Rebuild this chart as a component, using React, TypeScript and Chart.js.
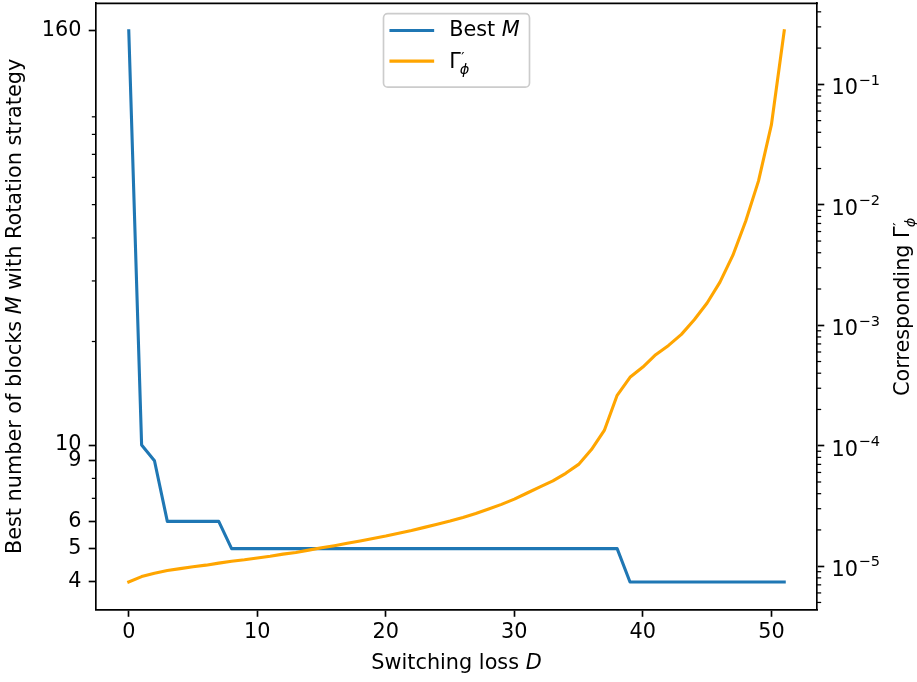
import React, { useEffect, useRef } from 'react';
import { Chart, registerables } from 'chart.js';

Chart.register(...registerables);

// ---------- data ----------
const switchingLoss = [
  0, 1, 2, 3, 4, 5, 6, 7, 8, 9, 10, 11, 12, 13, 14, 15, 16, 17, 18, 19, 20, 21, 22, 23, 24, 25,
  26, 27, 28, 29, 30, 31, 32, 33, 34, 35, 36, 37, 38, 39, 40, 41, 42, 43, 44, 45, 46, 47, 48, 49, 50, 51,
];
const bestM = [
  160, 10, 9, 6, 6, 6, 6, 6, 5, 5, 5, 5, 5, 5, 5, 5, 5, 5, 5, 5, 5, 5, 5, 5, 5, 5,
  5, 5, 5, 5, 5, 5, 5, 5, 5, 5, 5, 5, 5, 4, 4, 4, 4, 4, 4, 4, 4, 4, 4, 4, 4, 4,
];
const gammaPhi = [
  7.4e-6, 8.2e-6, 8.75e-6, 9.2e-6, 9.55e-6, 9.9e-6, 1.02e-5, 1.06e-5, 1.1e-5, 1.13e-5,
  1.17e-5, 1.21e-5, 1.26e-5, 1.3e-5, 1.36e-5, 1.42e-5, 1.48e-5, 1.55e-5, 1.62e-5, 1.7e-5,
  1.78e-5, 1.88e-5, 1.98e-5, 2.1e-5, 2.23e-5, 2.37e-5, 2.54e-5, 2.74e-5, 2.98e-5, 3.26e-5,
  3.6e-5, 4.05e-5, 4.55e-5, 5.1e-5, 5.9e-5, 7.0e-5, 9.3e-5, 1.34e-4, 2.62e-4, 3.7e-4,
  4.5e-4, 5.7e-4, 6.8e-4, 8.4e-4, 1.11e-3, 1.53e-3, 2.28e-3, 3.8e-3, 7.3e-3, 1.58e-2,
  4.6e-2, 0.278,
];

const xTicks = [0, 10, 20, 30, 40, 50];
const leftTicks = [4, 5, 6, 9, 10, 160];
const leftMinorTicks = [7, 8, 20, 30, 40, 50, 60, 70, 80, 90];
const rightTicks = [1e-5, 1e-4, 1e-3, 1e-2, 1e-1];
const rightTickExponents = [-5, -4, -3, -2, -1];
const rightMinorTicks = [
  5e-6, 6e-6, 7e-6, 8e-6, 9e-6,
  2e-5, 3e-5, 4e-5, 5e-5, 6e-5, 7e-5, 8e-5, 9e-5,
  2e-4, 3e-4, 4e-4, 5e-4, 6e-4, 7e-4, 8e-4, 9e-4,
  2e-3, 3e-3, 4e-3, 5e-3, 6e-3, 7e-3, 8e-3, 9e-3,
  2e-2, 3e-2, 4e-2, 5e-2, 6e-2, 7e-2, 8e-2, 9e-2,
  2e-1, 3e-1, 4e-1,
];

// ---------- style ----------
const FONT = 'DejaVu Sans';
const FS = 20.8;
const BLUE = '#1f77b4';
const ORANGE = '#ffa500';
const MAJOR_LEN = 7.29;
const MINOR_LEN = 4.17;
const PAD = 7.29;

// axis limits with matplotlib-like 5% margins
const xMinData = Math.min(...switchingLoss);
const xMaxData = Math.max(...switchingLoss);
const xMargin = (xMaxData - xMinData) * 0.05;
function logLimits(arr: number[]) {
  const lo = Math.log10(Math.min(...arr));
  const hi = Math.log10(Math.max(...arr));
  const m = (hi - lo) * 0.05;
  return [Math.pow(10, lo - m), Math.pow(10, hi + m)];
}
const [yLMin, yLMax] = logLimits(bestM);
const [yRMin, yRMax] = logLimits(gammaPhi);

const fontN = (s: number) => `${s}px "${FONT}"`;
const fontI = (s: number) => `italic ${s}px "${FONT}"`;

// Gamma'_phi math label
function gammaWidth(ctx: CanvasRenderingContext2D, s: number) {
  ctx.font = fontN(s);
  const g = ctx.measureText('\u0393').width;
  ctx.font = fontI(s * 0.7);
  const p = ctx.measureText('\u03D5').width;
  return g + p;
}
function drawGamma(ctx: CanvasRenderingContext2D, x: number, base: number, s: number) {
  ctx.font = fontN(s);
  ctx.fillText('\u0393', x, base);
  const g = ctx.measureText('\u0393').width;
  ctx.font = fontN(s * 0.7);
  ctx.fillText('\u2032', x + g + 0.5, base - s * 0.27);
  ctx.font = fontI(s * 0.7);
  ctx.fillText('\u03D5', x + g - 1, base + s * 0.3);
}

type Part = { t: string; it: boolean };
function partsWidth(ctx: CanvasRenderingContext2D, parts: Part[], s: number) {
  let w = 0;
  for (const p of parts) {
    ctx.font = p.it ? fontI(s) : fontN(s);
    w += ctx.measureText(p.t).width;
  }
  return w;
}
function drawParts(ctx: CanvasRenderingContext2D, parts: Part[], x: number, base: number, s: number) {
  let cx = x;
  for (const p of parts) {
    ctx.font = p.it ? fontI(s) : fontN(s);
    ctx.fillText(p.t, cx, base);
    cx += ctx.measureText(p.t).width;
  }
  return cx;
}

const decorPlugin = {
  id: 'decor',
  afterDraw(chart: any) {
    const ctx: CanvasRenderingContext2D = chart.ctx;
    const { left, right, top, bottom } = chart.chartArea;
    const yL = chart.scales.yL;
    const yR = chart.scales.yR;
    ctx.save();
    // top spine
    ctx.strokeStyle = '#000';
    ctx.lineWidth = 1.67;
    ctx.lineCap = 'square';
    ctx.beginPath();
    ctx.moveTo(left, top);
    ctx.lineTo(right, top);
    ctx.stroke();

    // minor ticks
    ctx.lineCap = 'butt';
    ctx.lineWidth = 1.25;
    for (const v of leftMinorTicks) {
      const y = yL.getPixelForValue(v);
      ctx.beginPath();
      ctx.moveTo(left - MINOR_LEN, y);
      ctx.lineTo(left, y);
      ctx.stroke();
    }
    for (const v of rightMinorTicks) {
      const y = yR.getPixelForValue(v);
      ctx.beginPath();
      ctx.moveTo(right, y);
      ctx.lineTo(right + MINOR_LEN, y);
      ctx.stroke();
    }

    // right tick labels 10^n
    ctx.fillStyle = '#000';
    ctx.textAlign = 'left';
    ctx.textBaseline = 'alphabetic';
    rightTicks.forEach((v, i) => {
      const y = yR.getPixelForValue(v);
      const x0 = right + MAJOR_LEN + PAD;
      const base = y + 9.8;
      ctx.font = fontN(FS);
      ctx.fillText('10', x0, base);
      const w = ctx.measureText('10').width;
      ctx.font = fontN(FS * 0.7);
      ctx.fillText('\u2212' + Math.abs(rightTickExponents[i]), x0 + w + 0.5, base - 9.5);
    });

    // x title
    const xParts: Part[] = [{ t: 'Switching loss ', it: false }, { t: 'D', it: true }];
    const xw = partsWidth(ctx, xParts, FS);
    drawParts(ctx, xParts, (left + right) / 2 - xw / 2, 669, FS);

    // left title
    const cy = (top + bottom) / 2;
    const lParts: Part[] = [
      { t: 'Best number of blocks ', it: false },
      { t: 'M', it: true },
      { t: ' with Rotation strategy', it: false },
    ];
    ctx.save();
    ctx.translate(20.7, cy);
    ctx.rotate(-Math.PI / 2);
    const lw = partsWidth(ctx, lParts, FS);
    drawParts(ctx, lParts, -lw / 2, 0, FS);
    ctx.restore();

    // right title
    const rParts: Part[] = [{ t: 'Corresponding ', it: false }];
    ctx.save();
    ctx.translate(908.5, cy);
    ctx.rotate(-Math.PI / 2);
    const rw = partsWidth(ctx, rParts, FS) + gammaWidth(ctx, FS);
    const ex = drawParts(ctx, rParts, -rw / 2, 0, FS);
    drawGamma(ctx, ex, 0, FS);
    ctx.restore();

    // legend
    const lgW = 146;
    const lgH = 73.5;
    const lgX = (left + right) / 2 - lgW / 2;
    const lgY = top + 10.4;
    ctx.beginPath();
    (ctx as any).roundRect(lgX, lgY, lgW, lgH, 4.2);
    ctx.fillStyle = 'rgba(255,255,255,0.8)';
    ctx.fill();
    ctx.strokeStyle = '#cccccc';
    ctx.lineWidth = 1.67;
    ctx.stroke();

    const hx0 = lgX + 7.5;
    const hx1 = hx0 + 41.6;
    const tx = hx1 + 16.6;
    ctx.lineWidth = 3.1;
    ctx.lineCap = 'square';
    ctx.strokeStyle = BLUE;
    ctx.beginPath();
    ctx.moveTo(hx0, lgY + 16.8);
    ctx.lineTo(hx1, lgY + 16.8);
    ctx.stroke();
    ctx.strokeStyle = ORANGE;
    ctx.beginPath();
    ctx.moveTo(hx0, lgY + 47.4);
    ctx.lineTo(hx1, lgY + 47.4);
    ctx.stroke();
    ctx.fillStyle = '#000';
    drawParts(ctx, [{ t: 'Best ', it: false }, { t: 'M', it: true }], tx, lgY + 22.6, FS);
    drawGamma(ctx, tx, lgY + 54, FS);

    ctx.restore();
  },
};

export default function App() {
  const ref = useRef<HTMLCanvasElement | null>(null);
  useEffect(() => {
    document.body.style.margin = '0';
    const canvas = ref.current;
    if (!canvas) return;
    const tickFont = { family: FONT, size: FS };
    const gridOpts = {
      display: true,
      drawOnChartArea: false,
      drawTicks: true,
      tickLength: MAJOR_LEN,
      tickWidth: 1.67,
      tickColor: '#000',
    };
    const borderOpts = { display: true, color: '#000', width: 1.67 };
    const chart = new Chart(canvas, {
      type: 'line',
      data: {
        datasets: [
          {
            label: "Γ′ϕ",
            data: switchingLoss.map((x, i) => ({ x, y: gammaPhi[i] })),
            xAxisID: 'x',
            yAxisID: 'yR',
            borderColor: ORANGE,
            backgroundColor: ORANGE,
            borderWidth: 3.1,
            pointRadius: 0,
            pointHoverRadius: 0,
            tension: 0,
            fill: false,
            borderJoinStyle: 'round',
            borderCapStyle: 'square',
            order: 0,
          },
          {
            label: 'Best M',
            data: switchingLoss.map((x, i) => ({ x, y: bestM[i] })),
            xAxisID: 'x',
            yAxisID: 'yL',
            borderColor: BLUE,
            backgroundColor: BLUE,
            borderWidth: 3.1,
            pointRadius: 0,
            pointHoverRadius: 0,
            tension: 0,
            fill: false,
            borderJoinStyle: 'round',
            borderCapStyle: 'square',
            order: 1,
          },
        ],
      },
      options: {
        responsive: false,
        animation: false,
        devicePixelRatio: 1,
        events: [],
        layout: { padding: { top: 3.3, left: 0, right: 0, bottom: 0 }, autoPadding: false },
        plugins: { legend: { display: false }, tooltip: { enabled: false } },
        scales: {
          x: {
            type: 'linear',
            position: 'bottom',
            min: xMinData - xMargin,
            max: xMaxData + xMargin,
            afterBuildTicks: (s: any) => {
              s.ticks = xTicks.map((v) => ({ value: v }));
            },
            afterFit: (s: any) => {
              s.height = 72.5;
              s.paddingLeft = 0;
              s.paddingRight = 0;
            },
            grid: gridOpts,
            border: borderOpts,
            ticks: {
              font: tickFont,
              color: '#000',
              padding: 3.4,
              maxRotation: 0,
              autoSkip: false,
              callback: (v: any) => String(v),
            },
          },
          yL: {
            type: 'logarithmic',
            position: 'left',
            min: yLMin,
            max: yLMax,
            afterBuildTicks: (s: any) => {
              s.ticks = leftTicks.map((v) => ({ value: v }));
            },
            afterFit: (s: any) => {
              s.width = 96;
              s.paddingTop = 0;
              s.paddingBottom = 0;
            },
            grid: gridOpts,
            border: borderOpts,
            ticks: {
              font: tickFont,
              color: '#000',
              padding: PAD,
              autoSkip: false,
              callback: (v: any) => String(v),
            },
          },
          yR: {
            type: 'logarithmic',
            position: 'right',
            min: yRMin,
            max: yRMax,
            afterBuildTicks: (s: any) => {
              s.ticks = rightTicks.map((v) => ({ value: v }));
            },
            afterFit: (s: any) => {
              s.width = 100;
              s.paddingTop = 0;
              s.paddingBottom = 0;
            },
            grid: gridOpts,
            border: borderOpts,
            ticks: {
              font: tickFont,
              color: '#000',
              padding: PAD,
              autoSkip: false,
              callback: () => '',
            },
          },
        },
      },
      plugins: [decorPlugin],
    } as any);
    return () => chart.destroy();
  }, []);
  return <canvas ref={ref} width={917} height={682} style={{ display: 'block' }} />;
}
